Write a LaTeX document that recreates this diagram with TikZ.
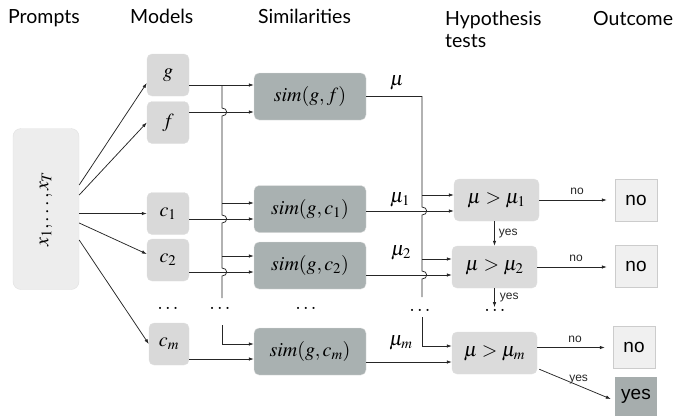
\documentclass[tikz,border=0pt]{standalone}
\usepackage{mathptmx}
\usepackage[no-math]{fontspec}
\setmainfont{Lato}
\newfontfamily\arialfont{Liberation Sans}
\usetikzlibrary{calc}
\usetikzlibrary{arrows.meta}

\definecolor{simgray}{RGB}{169,177,177}
\definecolor{yesgray}{RGB}{166,173,173}

\begin{document}
\begin{tikzpicture}[x=1pt,y=-1pt,
    wire/.style={line width=0.75pt,black!85},
    arr/.style={wire,-{Latex[length=5pt,width=3.5pt]}},
    box/.style={rounded corners=5pt,draw=black!12,inner sep=0pt,font=\fontsize{20}{22}\selectfont},
    model/.style={box,fill=black!15,minimum width=42pt,minimum height=42pt},
    simbox/.style={box,fill=simgray,minimum width=112pt,minimum height=47pt},
    testbox/.style={box,fill=black!14,minimum width=85pt,minimum height=42pt},
    outbox/.style={draw=black!20,fill=black!6,minimum width=42pt,minimum height=42pt,inner sep=0pt,font=\arialfont\fontsize{19}{21}\selectfont},
    head/.style={anchor=base west,inner sep=0pt,font=\fontsize{19.5}{22}\selectfont},
    lab/.style={inner sep=0pt,font=\fontsize{20}{22}\selectfont},
    small/.style={inner sep=0pt,font=\arialfont\fontsize{12}{14}\selectfont}]%
    \useasboundingbox (0,0) rectangle (679,416);%
    % column heads
    \node[head] (hprompts) at (8,23) {Prompts};%
    \node[head] (hmodels) at (130,23) {Models};%
    \node[head] (hsim) at (258,23) {Similarities};%
    \node[head] (hhyp) at (445,25) {Hypothesis};%
    \node[head] (htests) at (445,47) {tests};%
    \node[head] (hout) at (593,25) {Outcome};%
    % prompts
    \node[box,rotate=90,fill=black!7,rounded corners=8pt,minimum width=161pt,minimum height=66pt] (prompts) at (46,209) {$x_1,\ldots,x_T$};%
    % models
    \node[model] (g) at (168,75) {$g$};%
    \node[model] (f) at (168,122.5) {$f$};%
    \node[model] (c1) at (168,213.5) {$c_1$};%
    \node[model] (c2) at (168,260) {$c_2$};%
    \node[model,minimum width=40pt] (cm) at (169,344) {$c_m$};%
    \node[lab] (mdots) at (168,308) {$\ldots$};%
    % similarities
    \node[simbox] (sgf) at (310,96.5) {$sim(g,f)$};%
    \node[simbox] (sc1) at (310,209) {$sim(g,c_1)$};%
    \node[simbox] (sc2) at (310,265.5) {$sim(g,c_2)$};%
    \node[simbox] (scm) at (310,351.5) {$sim(g,c_m)$};%
    \node[lab] (sdots) at (306,308) {$\ldots$};%
    % hypothesis tests
    \node[testbox] (t1) at (496.5,200) {$\mu>\mu_1$};%
    \node[testbox] (t2) at (494.5,267) {$\mu>\mu_2$};%
    \node[testbox] (tm) at (494.5,353) {$\mu>\mu_m$};%
    \node[lab] (tdots) at (495,310) {$\ldots$};%
    % outcomes
    \node[outbox] (o1) at (636,200) {no};%
    \node[outbox] (o2) at (636,266) {no};%
    \node[outbox] (om) at (634,347.5) {no};%
    \node[outbox,fill=yesgray,draw=none,minimum height=39pt] (oy) at (636,396.5) {yes};%
    % prompts to models
    \draw[arr] ([yshift=24pt]prompts.south) -- ([yshift=-8pt]g.west);%
    \draw[arr] ([yshift=14pt]prompts.south) -- (f.west);%
    \draw[arr] (prompts.south |- c1.west) -- (c1.west);%
    \draw[arr] ([yshift=-14pt]prompts.south) -- ([yshift=6pt]c2.west);%
    \draw[arr] ([yshift=-31pt]prompts.south) -- (cm.west);%
    % inputs of the similarities
    \coordinate (sgfA) at ([yshift=11.5pt]sgf.west);%
    \coordinate (sgfB) at ([yshift=-15.5pt]sgf.west);%
    \coordinate (sc1A) at ([yshift=6pt]sc1.west);%
    \coordinate (sc1B) at ([yshift=-10pt]sc1.west);%
    \coordinate (sc2A) at ([yshift=9.5pt]sc2.west);%
    \coordinate (sc2B) at ([yshift=-6.5pt]sc2.west);%
    \coordinate (scmA) at ([yshift=7.5pt]scm.west);%
    \coordinate (scmB) at ([yshift=-7.5pt]scm.west);%
    \draw[arr] (g.east |- sgfA) -- (sgfA);%
    \draw[arr] (f.east |- sgfB) -- (sgfB);%
    \draw[arr] (c1.east |- sc1B) -- (sc1B);%
    \draw[arr] (c2.east |- sc2B) -- (sc2B);%
    \draw[arr] (cm.east |- scmB) -- (scmB);%
    % g bus
    \coordinate (bus) at (222,85);%
    \draw[wire] (bus) -- ($(bus |- sgfB)+(0,-4)$) to[out=0,in=0,looseness=2] ($(bus |- sgfB)+(0,4)$)
        -- ($(bus |- sc1B)+(0,-4)$) to[out=0,in=0,looseness=2] ($(bus |- sc1B)+(0,4)$)
        -- ($(bus |- sc2B)+(0,-4)$) to[out=0,in=0,looseness=2] ($(bus |- sc2B)+(0,4)$) -- ++(0,22);%
    \node[lab] (bdots) at (220,308) {$\ldots$};%
    \draw[arr] (bus |- sc1A) -- (sc1A);%
    \draw[arr] (bus |- sc2A) -- (sc2A);%
    \draw[arr] ($(bus |- scmA)+(0,-19)$) -- (bus |- scmA) -- (scmA);%
    % inputs of the tests
    \coordinate (t1A) at ([yshift=5pt]t1.west);%
    \coordinate (t1B) at ([yshift=-11pt]t1.west);%
    \coordinate (t2A) at ([yshift=8pt]t2.west);%
    \coordinate (t2B) at ([yshift=-8pt]t2.west);%
    \coordinate (tmA) at ([yshift=7pt]tm.west);%
    \coordinate (tmB) at ([yshift=-9pt]tm.west);%
    \draw[arr] (sc1.east |- t1B) -- (t1B);%
    \draw[arr] (sc2.east |- t2B) -- (t2B);%
    \draw[arr] (scm.east |- tmB) -- (tmB);%
    % mu bus
    \coordinate (mbus) at (422,96.5);%
    \draw[wire] (sgf.east) -- (mbus) -- ($(mbus |- t1B)+(0,-4)$) to[out=0,in=0,looseness=2] ($(mbus |- t1B)+(0,4)$)
        -- ($(mbus |- t2B)+(0,-4)$) to[out=0,in=0,looseness=2] ($(mbus |- t2B)+(0,4)$) -- ++(0,18);%
    \node[lab] (mudots) at (420,310) {$\ldots$};%
    \draw[arr] (mbus |- t1A) -- (t1A);%
    \draw[arr] (mbus |- t2A) -- (t2A);%
    \draw[arr] ($(mbus |- tmA)+(0,-29)$) -- (mbus |- tmA) -- (tmA);%
    \node[lab] (mu) at (397,83) {$\mu$};%
    \node[lab] (mu1) at (400,200) {$\mu_1$};%
    \node[lab] (mu2) at (401,253) {$\mu_2$};%
    \node[lab] (mum) at (401,343) {$\mu_m$};%
    % decisions
    \draw[arr] (t1.south -| t2.north) -- (t2.north) node[small,midway,right=4pt] {yes};%
    \draw[arr] (t2.south) -- ++(0,19) node[small,midway,right=5pt] {yes};%
    \draw[arr,shorten >=8pt] (t1.east) -- (t1.east -| o1.west) node[small,midway,above=5pt] {no};%
    \draw[arr,shorten >=8pt] (t2.east) -- (t2.east -| o2.west) node[small,midway,above=5pt] {no};%
    \draw[arr,shorten >=8pt] (tm.east |- om.west) -- (om.west) node[small,midway,above=5pt] {no};%
    \draw[arr] ([xshift=2pt,yshift=5pt]tm.south east) -- ([xshift=-4pt,yshift=-2.5pt]oy.west) node[small,pos=0.55,yshift=6pt] {yes};%
\end{tikzpicture}
\end{document}
